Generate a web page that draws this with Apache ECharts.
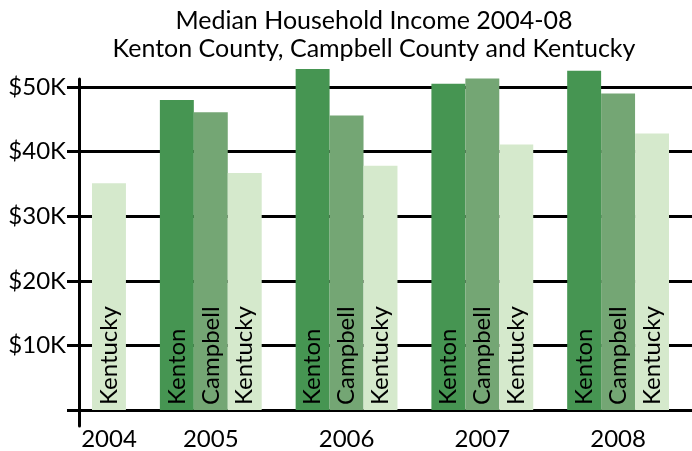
<!DOCTYPE html>
<html>
<head>
<meta charset="utf-8">
<script src="https://cdn.jsdelivr.net/npm/echarts@6/dist/echarts.min.js"></script>
<style>html,body{margin:0;padding:0;background:#fff;}#c{width:692px;height:451px;}</style>
</head>
<body>
<div id="c"></div>
<script>
// ---- data ----
const years = ['2004', '2005', '2006', '2007', '2008'];
const seriesNames = ['Kenton', 'Campbell', 'Kentucky'];
const kenton = [null, 48.0, 52.8, 50.5, 52.5];
const campbell = [null, 46.1, 45.6, 51.3, 49.0];
const kentucky = [35.1, 36.7, 37.8, 41.1, 42.8];
const yTicks = [0, 10, 20, 30, 40, 50];
const yTickLabels = ['', '$10K', '$20K', '$30K', '$40K', '$50K'];

// ---- build slot layout (one category per bar, blank category between years) ----
const seriesValues = [kenton, campbell, kentucky];
const slotLabels = [];
const slotData = [[], [], []];
years.forEach((y, yi) => {
  const present = [];
  seriesValues.forEach((arr, si) => { if (arr[yi] != null) present.push(si); });
  const mid = Math.floor((present.length - 1) / 2);
  present.forEach((si, k) => {
    slotLabels.push(k === mid ? y : '');
    seriesValues.forEach((arr, sj) => slotData[sj].push(sj === si ? arr[yi] : null));
  });
  if (yi < years.length - 1) {
    slotLabels.push('');
    slotData.forEach(d => d.push(null));
  }
});

const colors = ['#469552', '#74a674', '#d5e9cc'];
const FONT = 'Lato';
const TXT = 24;
// vertical scale: 0 -> y=410, 50K -> y=87
const PX_PER_K = (410 - 87) / 50;
const BAR_MAX = 55;

const chart = echarts.init(document.getElementById('c'), null, {renderer: 'canvas'});
chart.setOption({
  animation: false,
  backgroundColor: '#ffffff',
  title: {
    text: 'Median Household Income 2004-08\nKenton County, Campbell County and Kentucky',
    left: 369, top: 2, textAlign: 'center',
    textStyle: {fontFamily: FONT, fontSize: 25, fontWeight: 'normal', color: '#000', lineHeight: 28}
  },
  grid: [
    {left: 79, right: 0, top: 87, bottom: 41},   // gridlines / y axis
    {left: 79, right: 0, top: 79, bottom: 25},   // extended vertical axis line
    {left: 92, right: 23, top: 87 - (BAR_MAX - 50) * PX_PER_K, bottom: 41}   // bars
  ],
  xAxis: [
    {gridIndex: 0, type: 'value', min: 0, max: 1, axisLine: {show: true, onZero: false, lineStyle: {color: '#000', width: 3}},
     axisTick: {show: false}, axisLabel: {show: false}, splitLine: {show: false}},
    {gridIndex: 1, type: 'value', show: false, min: 0, max: 1},
    {gridIndex: 2, type: 'category', data: slotLabels,
     axisLine: {show: false}, axisTick: {show: false},
     axisLabel: {interval: 0, margin: 17, fontFamily: FONT, fontSize: TXT, color: '#000'}}
  ],
  yAxis: [
    {gridIndex: 0, type: 'value', min: 0, max: 50, interval: 10,
     axisLine: {show: false},
     axisTick: {show: true, inside: false, length: 12, lineStyle: {color: '#000', width: 3}},
     axisLabel: {margin: 13, fontFamily: FONT, fontSize: TXT, color: '#000',
                 formatter: v => yTickLabels[yTicks.indexOf(v)]},
     splitLine: {show: true, lineStyle: {color: '#000', width: 3}}},
    {gridIndex: 1, type: 'value', min: 0, max: 1,
     axisLine: {show: true, lineStyle: {color: '#000', width: 3}},
     axisTick: {show: false}, axisLabel: {show: false}, splitLine: {show: false}},
    {gridIndex: 2, type: 'value', min: 0, max: BAR_MAX, show: false, splitLine: {show: false}}
  ],
  series: seriesNames.map((name, si) => ({
    name: name,
    type: 'bar',
    xAxisIndex: 2, yAxisIndex: 2,
    data: slotData[si],
    barCategoryGap: '0%',
    barGap: '-100%',
    itemStyle: {color: colors[si]},
    label: {
      show: true, position: 'insideBottom', rotate: 90, align: 'left', verticalAlign: 'middle',
      distance: 5, formatter: name, fontFamily: FONT, fontSize: TXT, color: '#000'
    }
  }))
});
</script>
</body>
</html>
